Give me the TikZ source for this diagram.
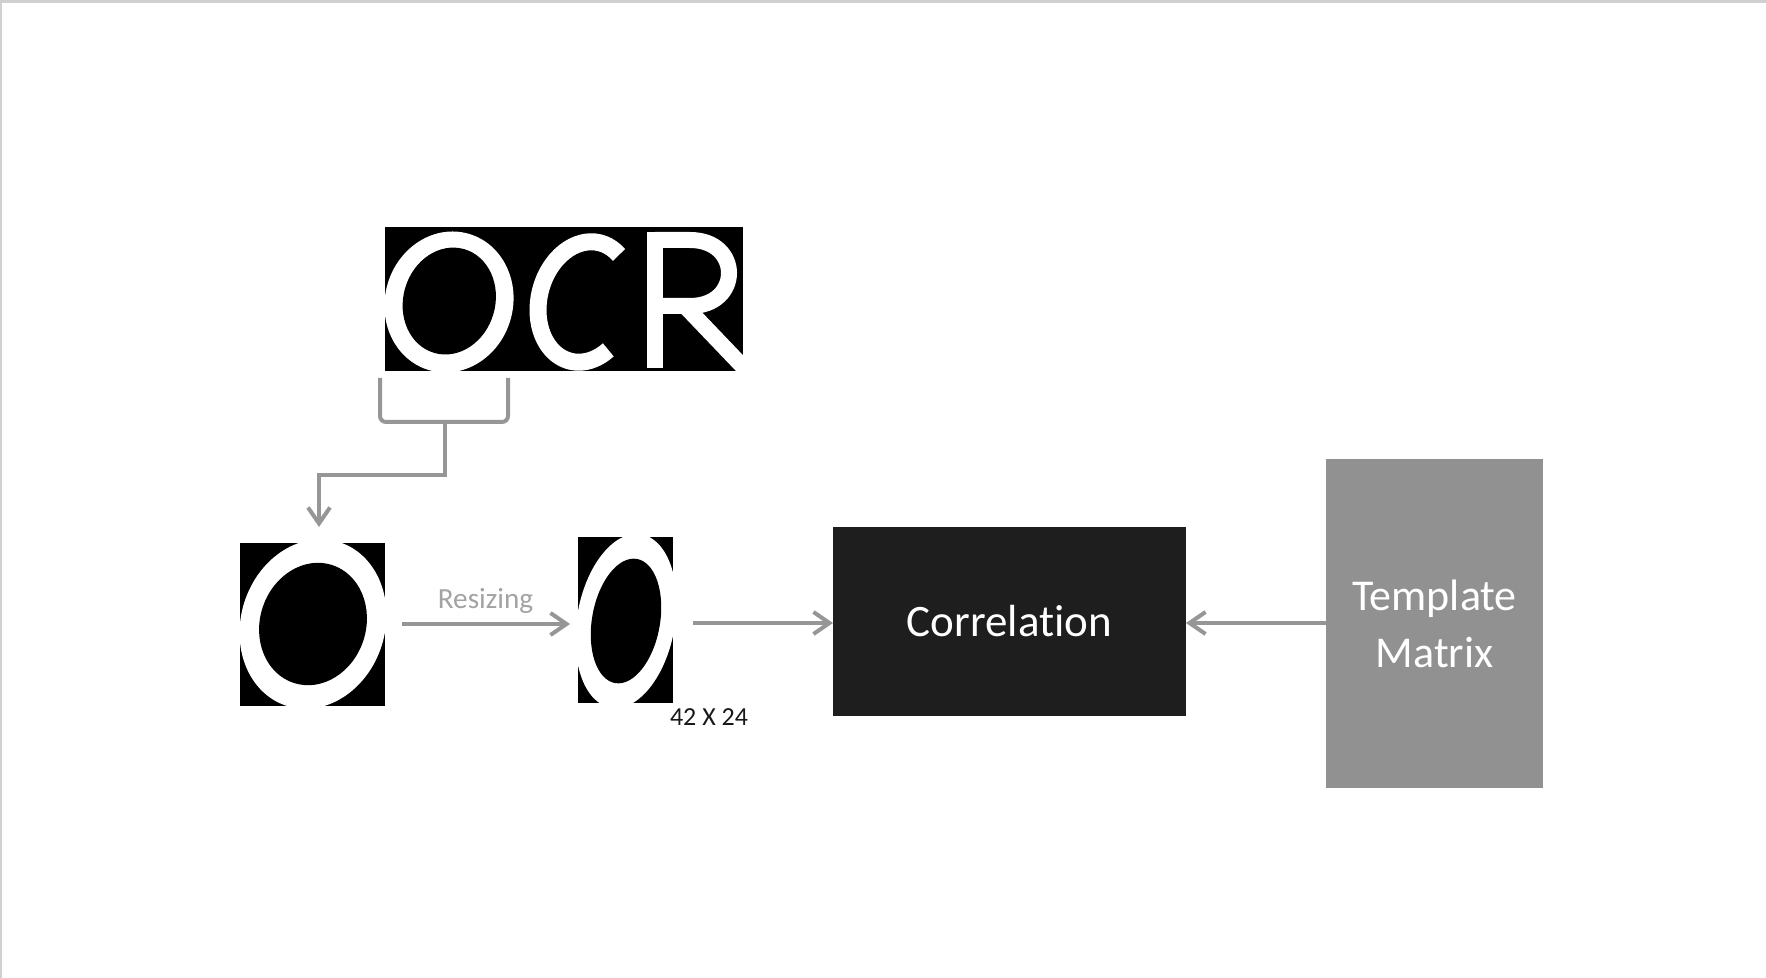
\documentclass[tikz,border=0pt]{standalone}
\usepackage{fontspec}
\setmainfont{Carlito}[Ligatures=NoCommon]
\usetikzlibrary{arrows.meta,calc}
\definecolor{arrgray}{HTML}{969696}
\definecolor{txtgray}{HTML}{A3A3A3}
\definecolor{corrfill}{HTML}{1E1E1E}
\definecolor{tmfill}{HTML}{919191}
\definecolor{bordergray}{HTML}{D0D0D0}
\begin{document}
\begin{tikzpicture}[x=0.5pt,y=-0.5pt,
  imgbox/.style={fill=black,inner sep=0pt,outer sep=0pt},
  conn/.style={draw=arrgray,line width=2pt,-{Straight Barb[length=8pt,width=11pt]}},
  bracketline/.style={draw=arrgray,line width=2pt,rounded corners=3pt},
  ink/.style={draw=white,line width=8.5pt}]
\useasboundingbox (0,0) rectangle (1766,978);
\fill[white] (0,0) rectangle (1766,978);
\fill[bordergray] (0,0) rectangle (1766,3);
\fill[bordergray] (0,0) rectangle (2,978);

% OCR image
\node[imgbox,minimum width=179pt,minimum height=72pt] (ocr) at (564,299) {};
\begin{scope}
  \clip (ocr.south west) rectangle (ocr.north east);
  \fill[white,rotate around={-16:(449,302)}] (449,302) ellipse [x radius=32pt,y radius=35.5pt];
  \fill[black,rotate around={-16:(449,302)}] (449,301) ellipse [x radius=23pt,y radius=27pt];
  \draw[ink,rotate around={-14:(585,302)}] (585,302) ++(62:23pt and 30.5pt) arc[start angle=62,end angle=318,x radius=23pt,y radius=30.5pt];
  \fill[white] (647,232) rectangle (663,368);
  \draw[ink,line width=8pt] (655,240) -- (690,240) .. controls (742,240) and (742,306) .. (690,306) -- (655,306);
  \draw[ink,line width=8pt] (683,304) -- (748,372);
\end{scope}

% bracket under the O
\draw[bracketline] (380,378) -- (380,422) -- (508,422) -- (508,378);
\coordinate (brk) at (445,422);

% big O
\node[imgbox,minimum width=72.5pt,minimum height=81.5pt] (obig) at (312.5,624.5) {};
\begin{scope}
  \clip (obig.south west) rectangle (obig.north east);
  \fill[white,rotate around={-18:(313,624)}] (313,624) ellipse [x radius=36pt,y radius=43pt];
  \fill[black,rotate around={-18:(313,624)}] (313,624) ellipse [x radius=26.5pt,y radius=31pt];
\end{scope}

% small O
\node[imgbox,minimum width=47.5pt,minimum height=83pt] (osmall) at (625.5,620) {};
\begin{scope}
  \clip (osmall.south west) rectangle (osmall.north east);
  \fill[white,rotate around={-10:(626,621)}] (626,621) ellipse [x radius=24.5pt,y radius=44pt];
  \fill[black,rotate around={-10:(626,621)}] (626,621) ellipse [x radius=17pt,y radius=31.5pt];
\end{scope}

% correlation and template
\node[fill=corrfill,inner sep=0pt,outer sep=0pt,minimum width=176.5pt,minimum height=94.5pt,
      text=white,font=\fontsize{22.5pt}{27pt}\selectfont] (corr) at (1009.5,621.5) {Correlation};
\node[fill=tmfill,inner sep=0pt,outer sep=0pt,minimum width=108.5pt,minimum height=164.5pt,
      text=white,align=center,font=\fontsize{22pt}{28.5pt}\selectfont] (tm) at (1434.5,623.5) {Template\\Matrix};

% connectors
\draw[conn,shorten >=8pt] (brk) -- ($(brk)+(0,53)$) -| ($(obig.north)+(6.5,0)$);
\draw[conn,shorten <=8.5pt,shorten >=4pt] (obig.east |- 0,624) -- node[above=1pt,xshift=2pt,text=txtgray,font=\fontsize{14.6pt}{17pt}\selectfont] (rlab) {Resizing} (osmall.west |- 0,624);
\draw[conn,shorten <=10pt] (osmall.east |- 0,623) -- (corr.west |- 0,623);
\draw[conn] (tm.west |- 0,623) -- (corr.east |- 0,623);

\node[anchor=base,text=black!90,font=\fontsize{13pt}{15pt}\selectfont,inner sep=0pt] (size) at (709,725) {42 X 24};
\end{tikzpicture}
\end{document}
